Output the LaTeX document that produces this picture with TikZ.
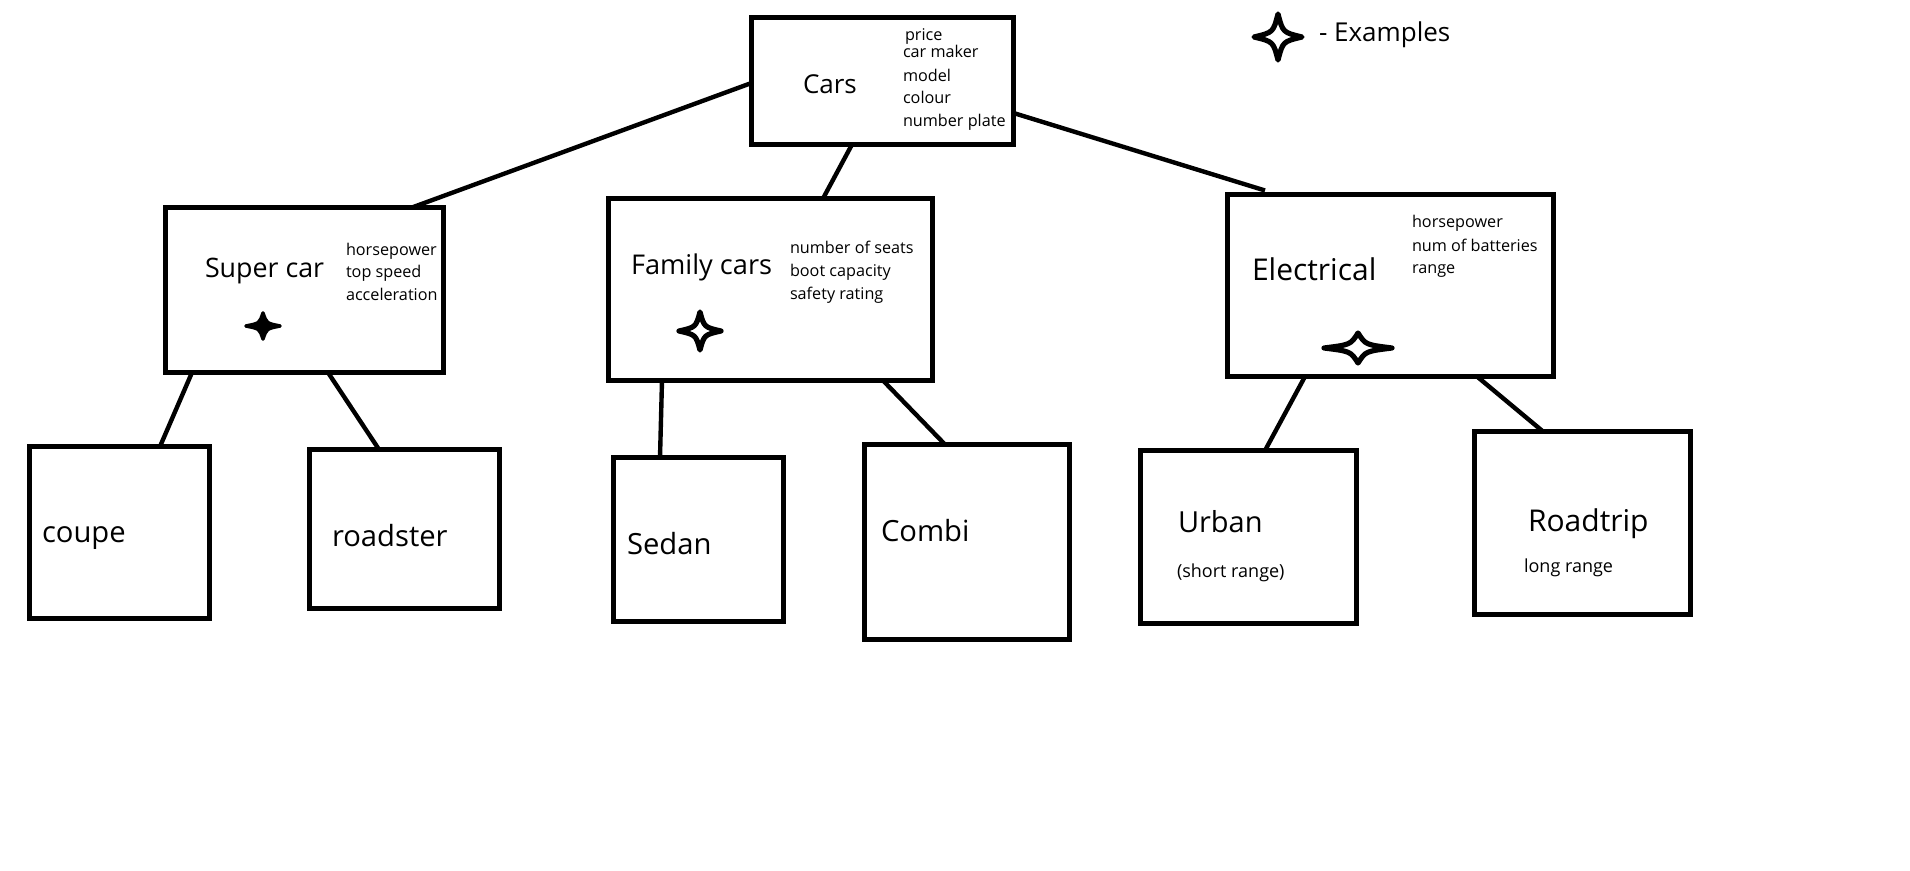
\documentclass[tikz,border=0pt]{standalone}
\usepackage{fontspec}
\setmainfont{Open Sans}
\usetikzlibrary{calc}
\newcommand\fsz[1]{\fontsize{#1}{#1}\selectfont}
% four-point star: x, y, rx, ry, waist factor, extra options
\newcommand\fourstar[6]{%
  \draw[line join=round,#6] (#1,#2-#4)
    .. controls (#1+#5*#3,#2-#5*#4) .. (#1+#3,#2)
    .. controls (#1+#5*#3,#2+#5*#4) .. (#1,#2+#4)
    .. controls (#1-#5*#3,#2+#5*#4) .. (#1-#3,#2)
    .. controls (#1-#5*#3,#2-#5*#4) .. cycle;}
\begin{document}
\begin{tikzpicture}[x=0.5pt,y=-0.5pt,
  box/.style={draw, line width=2.5pt, inner sep=0pt, outer sep=0pt},
  conn/.style={line width=2.2pt},
  txt/.style={anchor=base west, inner sep=0pt, outer sep=0pt},
  attr/.style={txt, font=\fsz{8.1pt}},
  sub/.style={txt, font=\fsz{9pt}},
  starline/.style={line width=2.6pt}]
\useasboundingbox (0,0) rectangle (1910,871);

% boxes
\node[box, minimum width=131pt, minimum height=63.5pt] (cars) at (882.5,81) {};
\node[box, minimum width=139pt, minimum height=82.5pt] (super) at (304.5,290) {};
\node[box, minimum width=162pt, minimum height=91pt] (family) at (770.5,289.5) {};
\node[box, minimum width=163pt, minimum height=91pt] (elec) at (1390.5,285.5) {};
\node[box, minimum width=90pt, minimum height=86pt] (coupe) at (119.5,532.5) {};
\node[box, minimum width=95pt, minimum height=79.5pt] (roadster) at (404.5,529) {};
\node[box, minimum width=85pt, minimum height=82pt] (sedan) at (698.5,539.5) {};
\node[box, minimum width=102.5pt, minimum height=97.5pt] (combi) at (967,542) {};
\node[box, minimum width=108pt, minimum height=86.5pt] (urban) at (1248.5,537) {};
\node[box, minimum width=108pt, minimum height=91.5pt] (roadtrip) at (1582.5,523) {};

% connectors
\draw[conn] ($(cars.west)+(0,2)$) -- ($(super.north west)+(246.5,0)$);
\draw[conn] ($(cars.south west)+(100.5,0)$) -- ($(family.north west)+(214.5,0)$);
\draw[conn] ($(cars.east)+(0,32)$) -- ($(elec.north west)+(37.5,-4)$);
\draw[conn] ($(super.south west)+(26.5,0)$) -- ($(coupe.north west)+(130.5,0)$);
\draw[conn] ($(super.south west)+(162.5,0)$) -- ($(roadster.north west)+(69.5,0)$);
\draw[conn] ($(family.south west)+(53.5,0)$) -- ($(sedan.north west)+(46.5,0)$);
\draw[conn] ($(family.south west)+(274.5,0)$) -- ($(combi.north west)+(80.5,0)$);
\draw[conn] ($(elec.south west)+(77.5,0)$) -- ($(urban.north west)+(124.5,0)$);
\draw[conn] ($(elec.south west)+(249.5,0)$) -- ($(roadtrip.north west)+(68.5,0)$);

% texts
\node[txt, font=\fsz{13pt}] (tcars) at (803,94) {Cars};
\node[attr] (a1) at (905,41) {price};
\node[attr] (a2) at (903,58) {car maker};
\node[attr] (a3) at (903,82) {model};
\node[attr] (a4) at (903,104) {colour};
\node[attr] (a5) at (903,127) {number plate};

\node[txt, font=\fsz{13.4pt}] (tsuper) at (205,278) {Super car};
\node[attr] (s1) at (346,256) {horsepower};
\node[attr] (s2) at (346,278) {top speed};
\node[attr] (s3) at (346,301) {acceleration};

\node[txt, font=\fsz{13.6pt}] (tfamily) at (631,275) {Family cars};
\node[attr] (f1) at (790,254) {number of seats};
\node[attr] (f2) at (790,277) {boot capacity};
\node[attr] (f3) at (790,300) {safety rating};

\node[txt, font=\fsz{15pt}] (telec) at (1252,281) {Electrical};
\node[attr] (e1) at (1412,228) {horsepower};
\node[attr] (e2) at (1412,252) {num of batteries};
\node[attr] (e3) at (1412,274) {range};

\node[txt, font=\fsz{14.6pt}] (tcoupe) at (42,542) {coupe};
\node[txt, font=\fsz{14.6pt}] (troadster) at (332,546) {roadster};
\node[txt, font=\fsz{14.6pt}] (tsedan) at (627,554) {Sedan};
\node[txt, font=\fsz{14.6pt}] (tcombi) at (881,541) {Combi};
\node[txt, font=\fsz{14.5pt}] (turban) at (1178,532) {Urban};
\node[sub] (turban2) at (1177,577) {(short range)};
\node[txt, font=\fsz{15pt}] (troad) at (1528,531) {Roadtrip};
\node[sub] (troad2) at (1524,572) {long range};

\node[txt, font=\fsz{13pt}] (legend) at (1319,42) {- Examples};

% stars
\fourstar{1278}{37}{24}{23}{0.2}{starline}
\fourstar{263}{326}{17}{13}{0.2}{line width=1.8pt, fill=black}
\fourstar{700}{331}{21}{19}{0.2}{starline}
\fourstar{1358}{348}{34}{15}{0.22}{starline}
\end{tikzpicture}
\end{document}
